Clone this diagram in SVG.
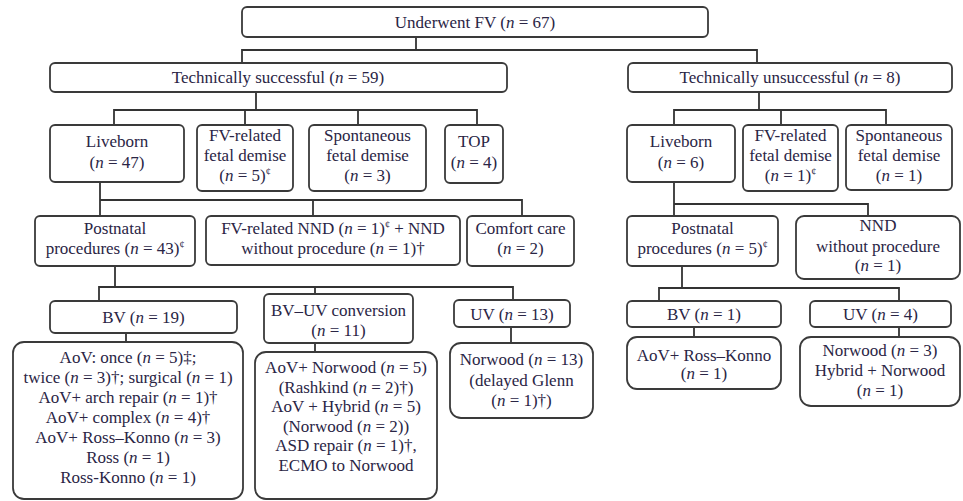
<svg xmlns="http://www.w3.org/2000/svg" width="963" height="501" viewBox="0 0 963 501">
<style>
.b{fill:#fff;stroke:#3a3a3a;stroke-width:1.8}
.t{font-family:"Liberation Serif","Times New Roman",serif;font-size:17px;fill:#2a2545;text-anchor:middle}
.i{font-style:italic}
.s{font-size:10px}
.c{fill:none;stroke:#333;stroke-width:1.8}
</style>
<rect width="963" height="501" fill="#fff"/>
<g id="connectors" class="c">
<path d="M416 37V50M242 63V50H757V63"/>
<path d="M256 92V110M114 125V110H477V125M245 110V125M358 110V125"/>
<path d="M759 92V110M674 125V110H886V125M781 110V125"/>
<path d="M100 182V216M100 200H522V216M313 200V216"/>
<path d="M674 182V216M674 204H868V216"/>
<path d="M115 266V287M99 301V287H513V300M315 287V294"/>
<path d="M126 333V342M315 343V352M511 327V343"/>
<path d="M682 266V288M659 301V288H899V301"/>
<path d="M694 327V337M899 327V337"/>
</g>
<g id="n-fv"><rect class="b" x="242" y="7" width="466" height="30" rx="5"/><text class="t" x="475" y="28">Underwent FV (<tspan class="i">n</tspan> = 67)</text></g>
<g id="n-ts"><rect class="b" x="50" y="63" width="457" height="29" rx="5"/><text class="t" x="278" y="83">Technically successful (<tspan class="i">n</tspan> = 59)</text></g>
<g id="n-tu"><rect class="b" x="628" y="63" width="324" height="29" rx="5"/><text class="t" x="790" y="83">Technically unsuccessful (<tspan class="i">n</tspan> = 8)</text></g>
<g id="n-lb1"><rect class="b" x="50" y="125" width="134" height="57" rx="5"/><text class="t" x="117" y="147">Liveborn</text><text class="t" x="117" y="168">(<tspan class="i">n</tspan> = 47)</text></g>
<g id="n-fd1"><rect class="b" x="197" y="125" width="96" height="66" rx="5"/><text class="t" x="245" y="141">FV-related</text><text class="t" x="245" y="161">fetal demise</text><text class="t" x="245" y="181">(<tspan class="i">n</tspan> = 5)<tspan class="s" dy="-6">¢</tspan></text></g>
<g id="n-sd1"><rect class="b" x="309" y="125" width="117" height="66" rx="5"/><text class="t" x="367.5" y="141">Spontaneous</text><text class="t" x="367.5" y="161">fetal demise</text><text class="t" x="367.5" y="181">(<tspan class="i">n</tspan> = 3)</text></g>
<g id="n-top"><rect class="b" x="445" y="125" width="58" height="58" rx="5"/><text class="t" x="474" y="147">TOP</text><text class="t" x="474" y="168">(<tspan class="i">n</tspan> = 4)</text></g>
<g id="n-lb2"><rect class="b" x="627" y="125" width="108" height="57" rx="5"/><text class="t" x="681" y="147">Liveborn</text><text class="t" x="681" y="168">(<tspan class="i">n</tspan> = 6)</text></g>
<g id="n-fd2"><rect class="b" x="743" y="125" width="95" height="66" rx="5"/><text class="t" x="790.5" y="141">FV-related</text><text class="t" x="790.5" y="161">fetal demise</text><text class="t" x="790.5" y="181">(<tspan class="i">n</tspan> = 1)<tspan class="s" dy="-6">¢</tspan></text></g>
<g id="n-sd2"><rect class="b" x="846" y="125" width="106" height="65" rx="5"/><text class="t" x="899" y="141">Spontaneous</text><text class="t" x="899" y="161">fetal demise</text><text class="t" x="899" y="181">(<tspan class="i">n</tspan> = 1)</text></g>
<g id="n-pp1"><rect class="b" x="35" y="216" width="160" height="50" rx="5"/><text class="t" x="115" y="234">Postnatal</text><text class="t" x="115" y="254">procedures (<tspan class="i">n</tspan> = 43)<tspan class="s" dy="-6">¢</tspan></text></g>
<g id="n-nnd1"><rect class="b" x="206" y="216" width="254" height="49" rx="5"/><text class="t" x="333" y="234">FV-related NND (<tspan class="i">n</tspan> = 1)<tspan class="s" dy="-6">¢</tspan><tspan dy="6"> + NND</tspan></text><text class="t" x="333" y="254">without procedure (<tspan class="i">n</tspan> = 1)†</text></g>
<g id="n-cc"><rect class="b" x="467" y="216" width="107" height="50" rx="5"/><text class="t" x="520.5" y="234">Comfort care</text><text class="t" x="520.5" y="254">(<tspan class="i">n</tspan> = 2)</text></g>
<g id="n-pp2"><rect class="b" x="627" y="216" width="151" height="50" rx="5"/><text class="t" x="702.5" y="234">Postnatal</text><text class="t" x="702.5" y="254">procedures (<tspan class="i">n</tspan> = 5)<tspan class="s" dy="-6">¢</tspan></text></g>
<g id="n-nnd2"><rect class="b" x="796" y="216" width="164" height="63" rx="8"/><text class="t" x="878" y="231">NND</text><text class="t" x="878" y="252">without procedure</text><text class="t" x="878" y="271">(<tspan class="i">n</tspan> = 1)</text></g>
<g id="n-bv1"><rect class="b" x="50" y="301" width="187" height="32" rx="5"/><text class="t" x="143.5" y="323">BV (<tspan class="i">n</tspan> = 19)</text></g>
<g id="n-bvuv"><rect class="b" x="264" y="294" width="149" height="49" rx="5"/><text class="t" x="338.5" y="316">BV–UV conversion</text><text class="t" x="338.5" y="336">(<tspan class="i">n</tspan> = 11)</text></g>
<g id="n-uv1"><rect class="b" x="454" y="300" width="116" height="27" rx="5"/><text class="t" x="512" y="319.5">UV (<tspan class="i">n</tspan> = 13)</text></g>
<g id="n-bv2"><rect class="b" x="627" y="301" width="154" height="26" rx="5"/><text class="t" x="704" y="320">BV (<tspan class="i">n</tspan> = 1)</text></g>
<g id="n-uv2"><rect class="b" x="810" y="301" width="141" height="26" rx="5"/><text class="t" x="880.5" y="320">UV (<tspan class="i">n</tspan> = 4)</text></g>
<g id="n-bvd"><rect class="b" x="13" y="342" width="230" height="157" rx="11"/>
<text class="t" x="128" y="363">AoV: once (<tspan class="i">n</tspan> = 5)‡;</text>
<text class="t" x="128" y="383">twice (<tspan class="i">n</tspan> = 3)†; surgical (<tspan class="i">n</tspan> = 1)</text>
<text class="t" x="128" y="403">AoV+ arch repair (<tspan class="i">n</tspan> = 1)†</text>
<text class="t" x="128" y="423">AoV+ complex (<tspan class="i">n</tspan> = 4)†</text>
<text class="t" x="128" y="443">AoV+ Ross–Konno (<tspan class="i">n</tspan> = 3)</text>
<text class="t" x="128" y="463">Ross (<tspan class="i">n</tspan> = 1)</text>
<text class="t" x="128" y="483">Ross-Konno (<tspan class="i">n</tspan> = 1)</text></g>
<g id="n-bvuvd"><rect class="b" x="255" y="352" width="182" height="147" rx="11"/>
<text class="t" x="346" y="373">AoV+ Norwood (<tspan class="i">n</tspan> = 5)</text>
<text class="t" x="346" y="392.5">(Rashkind (<tspan class="i">n</tspan> = 2)†)</text>
<text class="t" x="346" y="412">AoV + Hybrid (<tspan class="i">n</tspan> = 5)</text>
<text class="t" x="346" y="431.5">(Norwood (<tspan class="i">n</tspan> = 2))</text>
<text class="t" x="346" y="451">ASD repair (<tspan class="i">n</tspan> = 1)†,</text>
<text class="t" x="346" y="470.5">ECMO to Norwood</text></g>
<g id="n-uvd"><rect class="b" x="450" y="343" width="143" height="75" rx="11"/>
<text class="t" x="521.5" y="365">Norwood (<tspan class="i">n</tspan> = 13)</text>
<text class="t" x="521.5" y="386">(delayed Glenn</text>
<text class="t" x="521.5" y="406">(<tspan class="i">n</tspan> = 1)†)</text></g>
<g id="n-rk"><rect class="b" x="627" y="337" width="154" height="52" rx="10"/>
<text class="t" x="704" y="361">AoV+ Ross–Konno</text>
<text class="t" x="704" y="379">(<tspan class="i">n</tspan> = 1)</text></g>
<g id="n-nw"><rect class="b" x="800" y="337" width="160" height="69" rx="11"/>
<text class="t" x="880" y="356">Norwood (<tspan class="i">n</tspan> = 3)</text>
<text class="t" x="880" y="376">Hybrid + Norwood</text>
<text class="t" x="880" y="396">(<tspan class="i">n</tspan> = 1)</text></g>
</svg>
